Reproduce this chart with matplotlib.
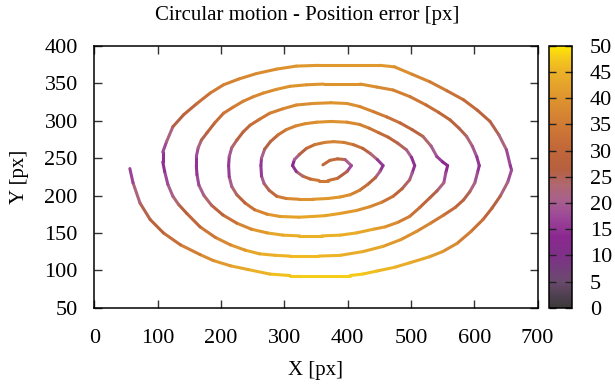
import numpy as np
import matplotlib
matplotlib.use("Agg")
import matplotlib.pyplot as plt
from matplotlib.collections import LineCollection
from matplotlib.colors import LinearSegmentedColormap, Normalize

plt.rcParams['font.family'] = ['Liberation Serif', 'DejaVu Serif']

# ---- data: robot path (x, y) and position error ----
# ring 1
x1 = [361, 372, 384, 396, 406, 399, 384, 369, 355, 341, 329, 319, 313]
y1 = [241, 247, 249, 248, 240, 232, 223, 220, 220, 222, 226, 232, 240]
e1 = [30, 31, 31, 28, 13, 22, 30, 34, 35, 33, 28, 20, 10]
# ring 2
x2 = [316, 324, 335, 348, 364, 378, 394, 409, 424, 436, 447, 456,
      451, 444, 432, 419, 404, 388, 369, 345, 323, 303, 288, 276, 268, 264, 263]
y2 = [248, 255, 263, 268, 271, 272, 271, 268, 263, 256, 248, 240,
      232, 224, 215, 207, 201, 198, 196, 195, 195, 196, 199, 207, 216, 226, 240]
e2 = [17, 24, 30, 33, 36, 37, 36, 34, 30, 26, 20, 12,
      18, 24, 30, 34, 38, 40, 41, 40, 39, 37, 33, 28, 22, 18, 14]
# ring 3
x3 = [264, 269, 278, 290, 303, 318, 333, 351, 374, 399, 419, 434, 449, 464,
      479, 493, 501, 506,
      502, 498, 486, 472, 454, 435, 414, 388, 364, 345, 323, 293, 273, 253,
      238, 225, 217, 213, 212]
y3 = [250, 262, 272, 281, 288, 293, 296, 298, 299, 298, 295, 290, 284, 278,
      270, 261, 251, 240,
      230, 221, 209, 199, 191, 185, 180, 176, 173, 172, 171, 172, 175, 181,
      190, 201, 212, 225, 240]
e3 = [17, 24, 28, 32, 35, 37, 38, 39, 40, 39, 37, 35, 32, 30,
      27, 23, 18, 12,
      18, 22, 27, 31, 35, 38, 40, 42, 43, 43, 43, 42, 39, 35,
      30, 26, 22, 18, 14]
# ring 4
x4 = [213, 217, 225, 235, 246, 261, 277, 298, 319, 345, 374, 399, 419, 441,
      462, 483, 502, 519, 532, 541, 550, 558,
      555, 552, 541, 530, 514, 498, 479, 459, 441, 414, 388, 359, 324, 298,
      273, 248, 225, 203, 185, 173, 165, 162, 161]
y4 = [252, 264, 274, 285, 294, 302, 310, 316, 321, 323, 324, 323, 319, 312,
      305, 297, 288, 279, 266, 252, 245, 240,
      230, 217, 206, 197, 184, 172, 164, 158, 155, 150, 147, 146, 146, 147,
      150, 155, 163, 174, 187, 200, 214, 228, 240]
e4 = [17, 22, 26, 29, 31, 33, 35, 37, 38, 39, 40, 40, 38, 36,
      34, 31, 29, 26, 22, 18, 15, 12,
      16, 20, 24, 28, 31, 34, 37, 40, 42, 44, 45, 45, 45, 44,
      42, 39, 35, 30, 26, 22, 19, 16, 14]
# ring 5
x5 = [161, 164, 169, 178, 190, 204, 219, 235, 251, 267, 288, 309, 335, 362,
      389, 420, 446, 472, 499, 524, 544, 562, 576, 588, 597, 604, 608,
      605, 601, 593, 583, 570, 552, 531, 509, 484, 456, 424, 388, 354, 324,
      309, 286, 261, 238, 215, 191, 167, 146, 133, 124, 116, 111, 108]
y5 = [252, 264, 274, 284, 297, 310, 318, 326, 332, 337, 342, 346, 348, 349,
      349, 349, 345, 341, 332, 321, 311, 301, 290, 279, 266, 252, 240,
      230, 217, 205, 194, 184, 174, 163, 152, 141, 132, 125, 120, 119, 119,
      119, 120, 122, 127, 134, 144, 158, 176, 188, 199, 215, 232, 245]
e5 = [16, 20, 24, 27, 30, 33, 35, 36, 37, 38, 39, 40, 40, 40,
      40, 40, 38, 37, 35, 33, 31, 29, 27, 24, 21, 18, 13,
      17, 20, 24, 27, 30, 33, 36, 38, 40, 42, 44, 45, 46, 46,
      46, 45, 44, 42, 39, 36, 32, 28, 25, 22, 19, 16, 13]
# ring 6 (outermost, ends at the left)
x6 = [108, 114, 124, 141, 162, 183, 204, 229, 256, 288, 319, 354, 389, 424,
      451, 474, 502, 530, 557, 583, 605, 625, 639, 651, 657,
      659, 653, 641, 628, 614, 595, 573, 550, 529, 498, 474, 446, 424, 404,
      364, 324, 309, 277, 243, 215, 188, 167, 136, 109, 88, 72, 61, 56]
y6 = [258, 272, 292, 308, 323, 337, 348, 356, 363, 369, 373, 374, 374, 374,
      374, 372, 362, 352, 340, 328, 314, 299, 281, 261, 240,
      234, 218, 199, 183, 168, 152, 136, 125, 118, 110, 104, 99, 95, 93,
      93, 93, 93, 95, 101, 106, 113, 121, 134, 150, 168, 190, 217, 236]
e6 = [16, 19, 24, 28, 31, 34, 36, 37, 38, 39, 40, 41, 41, 41,
      41, 40, 38, 36, 34, 32, 30, 27, 24, 20, 15,
      16, 20, 24, 28, 31, 34, 37, 40, 42, 44, 45, 46, 47, 48,
      48, 48, 47, 46, 44, 42, 40, 37, 34, 30, 27, 24, 20, 14]

x_ticks = [0, 100, 200, 300, 400, 500, 600, 700]
y_ticks = [50, 100, 150, 200, 250, 300, 350, 400]
c_ticks = [0, 5, 10, 15, 20, 25, 30, 35, 40, 45, 50]

# ---- palette ----
cmap = LinearSegmentedColormap.from_list("gp", [
    (0.00, "#3a3838"), (0.10, "#6b4a6e"), (0.20, "#7e3088"),
    (0.27, "#8b2890"), (0.35, "#9d4898"), (0.41, "#a8608c"),
    (0.47, "#b06870"), (0.53, "#b6603f"), (0.60, "#c0663a"),
    (0.70, "#d07a35"), (0.80, "#de942e"), (0.90, "#ebb028"),
    (0.96, "#f6cc18"), (1.00, "#ffe800")])
norm = Normalize(0, 50)

FS = 15
TFS = 16
fig = plt.figure(figsize=(6.15, 3.91), dpi=100)
ax = fig.add_axes([0.1535, 0.2130, 0.7205, 0.6696])
cax = fig.add_axes([0.8932, 0.2130, 0.0364, 0.6696])

X = x1 + x2 + x3 + x4 + x5 + x6
Y = y1 + y2 + y3 + y4 + y5 + y6
E = e1 + e2 + e3 + e4 + e5 + e6
pts = np.column_stack([X, Y]).astype(float)
segs = np.stack([pts[:-1], pts[1:]], axis=1)
ev = (np.array(E[:-1], float) + np.array(E[1:], float)) / 2
lc = LineCollection(segs, cmap=cmap, norm=norm, linewidths=2.2,
                    capstyle='round', joinstyle='round')
lc.set_array(ev)
ax.add_collection(lc)

ax.set_xlim(0, 700)
ax.set_ylim(50, 400)
ax.set_xticks(x_ticks)
ax.set_yticks(y_ticks)
ax.tick_params(direction='in', length=6, width=1, top=True, right=True,
               labelsize=TFS, color='#333333')
ax.tick_params(axis='x', pad=15)
ax.tick_params(axis='y', pad=12)
for s in ax.spines.values():
    s.set_linewidth(1.1)
ax.set_xlabel("X [px]", fontsize=FS, labelpad=10)
ax.set_ylabel("Y [px]", fontsize=FS, labelpad=11)
fig.suptitle("Circular motion - Position error [px]", fontsize=FS, y=0.985)

cb = fig.colorbar(plt.cm.ScalarMappable(norm=norm, cmap=cmap), cax=cax)
cb.set_ticks(c_ticks)
cb.ax.tick_params(direction='in', length=5, width=1, left=True, right=True,
                  labelsize=TFS, pad=13, color='#222222')
cb.outline.set_linewidth(1.1)

fig.savefig("out.png", dpi=100)
